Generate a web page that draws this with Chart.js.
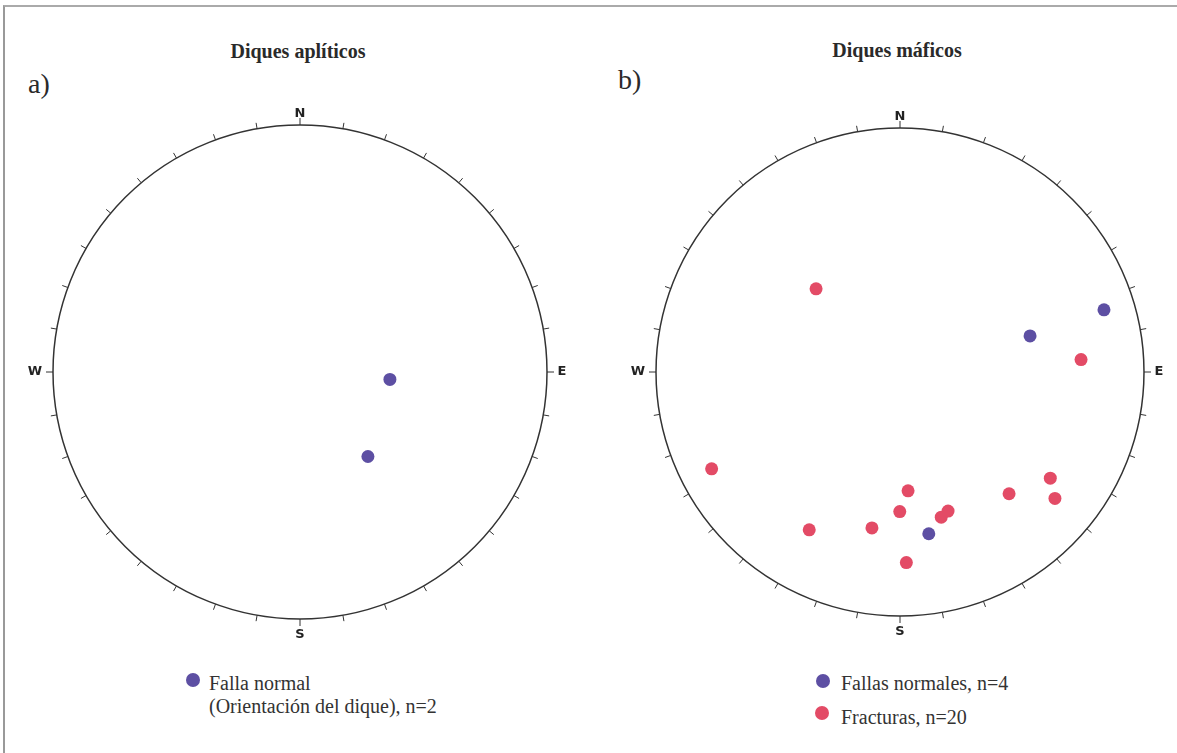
<!DOCTYPE html>
<html>
<head>
<meta charset="utf-8">
<script src="https://cdn.jsdelivr.net/npm/chart.js@4.4.0/dist/chart.umd.min.js"></script>
<style>
    body { margin: 0; background: #fff; width: 1177px; height: 753px; overflow: hidden; position: relative; }
    .frame { position: absolute; left: 3px; top: 5px; right: 0; bottom: 0; border-top: 2px solid #aaa; border-left: 2px solid #999; }
    .txt { position: absolute; font-family: "Liberation Serif", serif; color: #2a2a2a; white-space: nowrap; }
    .title { font-weight: bold; font-size: 20px; line-height: 20px; transform: translateX(-50%); }
    .panel { font-size: 28px; line-height: 28px; }
    .leg { font-size: 20px; color: #333; line-height: 23px; }
    .dot { position: absolute; width: 14px; height: 14px; border-radius: 50%; }
    canvas { position: absolute; }
</style>
</head>
<body>
<div class="frame"></div>

<div class="txt title" style="left:298px; top:41px;">Diques aplíticos</div>
<div class="txt title" style="left:897px; top:40px;">Diques máficos</div>
<div class="txt panel" style="left:28px; top:70px;">a)</div>
<div class="txt panel" style="left:618px; top:66px;">b)</div>

<canvas id="stereo-a" width="574" height="574" style="left:13px; top:85px;"></canvas>
<canvas id="stereo-b" width="568" height="568" style="left:616px; top:88px;"></canvas>

<div class="dot" style="left:186px; top:673px; background:#5d4fa3;"></div>
<div class="txt leg" style="left:209px; top:672px;">Falla normal<br>(Orientación del dique), n=2</div>

<div class="dot" style="left:816px; top:674px; background:#5d4fa3;"></div>
<div class="txt leg" style="left:841px; top:672px;">Fallas normales, n=4</div>
<div class="dot" style="left:815px; top:706px; background:#e34b66;"></div>
<div class="txt leg" style="left:841px; top:706px;">Fracturas, n=20</div>

<script>
// projected positions inside the net, x = east, y = north, radius = 1
const aplFallasX = [0.364, 0.275];
const aplFallasY = [-0.030, -0.342];

const mafFallasX = [0.836, 0.533, 0.118];
const mafFallasY = [0.255, 0.148, -0.663];

const mafFracX = [-0.344, -0.772, 0.742, 0.616, 0.635, 0.447, 0.033, -0.001, -0.115, -0.372, 0.169, 0.197, 0.026];
const mafFracY = [0.341, -0.397, 0.051, -0.435, -0.518, -0.499, -0.487, -0.572, -0.639, -0.647, -0.595, -0.570, -0.781];

const cardinals = ['N', 'E', 'S', 'W'];
const cardinalGap = [11, 15, 16, 18];

const BLUE = '#5d4fa3';
const RED = '#e34b66';

function toPoints(xs, ys) {
    return xs.map((x, i) => ({ x: x, y: ys[i] }));
}

const stereonetPlugin = {
    id: 'stereonet',
    beforeDatasetsDraw(chart) {
        const ctx = chart.ctx;
        const sx = chart.scales.x;
        const sy = chart.scales.y;
        const cx = sx.getPixelForValue(0);
        const cy = sy.getPixelForValue(0);
        const r = sx.getPixelForValue(1) - cx;

        ctx.save();
        ctx.strokeStyle = '#333';
        ctx.lineWidth = 1.5;
        ctx.beginPath();
        ctx.arc(cx, cy, r, 0, Math.PI * 2);
        ctx.stroke();

        // ticks every 10 degrees, a little longer at N/E/S/W
        ctx.lineWidth = 1;
        for (let a = 0; a < 360; a += 10) {
            const t = a * Math.PI / 180;
            const dx = Math.sin(t), dy = -Math.cos(t);
            const len = a % 90 === 0 ? 7 : 6;
            ctx.beginPath();
            ctx.moveTo(cx + dx * r, cy + dy * r);
            ctx.lineTo(cx + dx * (r + len), cy + dy * (r + len));
            ctx.stroke();
        }

        ctx.fillStyle = '#222';
        ctx.font = 'bold 13px "DejaVu Sans", sans-serif';
        ctx.textAlign = 'center';
        ctx.textBaseline = 'middle';
        cardinals.forEach((lab, i) => {
            const t = i * Math.PI / 2;
            const d = r + cardinalGap[i];
            ctx.fillText(lab, cx + Math.sin(t) * d, cy - Math.cos(t) * d);
        });
        ctx.restore();
    }
};

function makeNet(id, datasets) {
    const canvas = document.getElementById(id);
    return new Chart(canvas, {
        type: 'scatter',
        data: { datasets: datasets },
        options: {
            responsive: false,
            animation: false,
            devicePixelRatio: 1,
            layout: { padding: 40 },
            plugins: {
                legend: { display: false },
                tooltip: { enabled: false }
            },
            scales: {
                x: { type: 'linear', min: -1, max: 1, display: false },
                y: { type: 'linear', min: -1, max: 1, display: false }
            }
        },
        plugins: [stereonetPlugin]
    });
}

function pointSet(label, xs, ys, color) {
    return {
        label: label,
        data: toPoints(xs, ys),
        backgroundColor: color,
        borderColor: color,
        borderWidth: 0,
        pointRadius: 6.5
    };
}

makeNet('stereo-a', [
    pointSet('Falla normal (Orientación del dique), n=2', aplFallasX, aplFallasY, BLUE)
]);

makeNet('stereo-b', [
    pointSet('Fracturas, n=20', mafFracX, mafFracY, RED),
    pointSet('Fallas normales, n=4', mafFallasX, mafFallasY, BLUE)
]);
</script>
</body>
</html>
